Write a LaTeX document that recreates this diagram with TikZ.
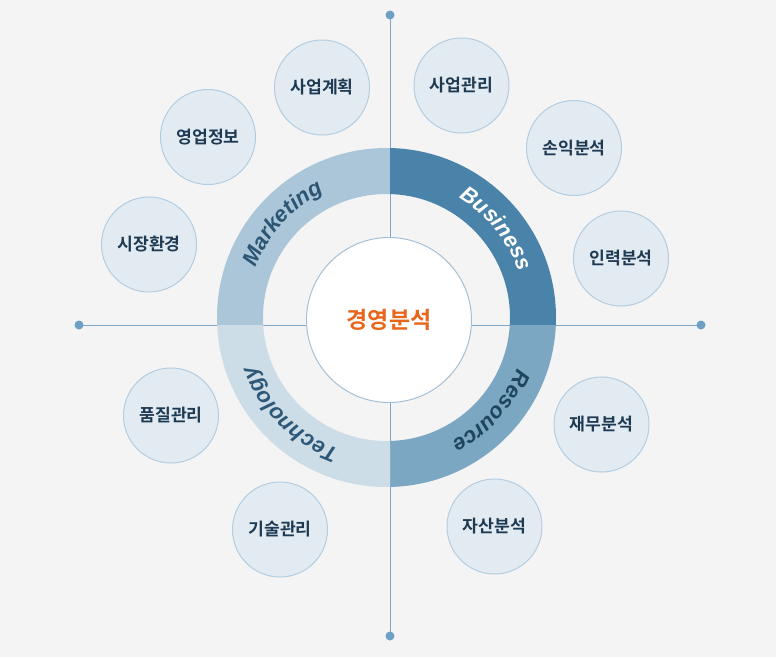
\documentclass[tikz,border=0pt]{standalone}
\usepackage{fontspec}
\setmainfont{Liberation Sans}
\IfFontExistsTF{Noto Sans CJK KR Bold}
  {\newfontfamily\kr{Noto Sans CJK KR Bold}}
  {\newfontfamily\kr{Noto Sans CJK KR}[FakeBold=1.5]}
\usetikzlibrary{decorations.text,calc}
\definecolor{bg}{HTML}{F4F4F4}
\definecolor{axisc}{HTML}{7FA8C8}
\definecolor{dotc}{HTML}{6E9FC4}
\definecolor{mkc}{HTML}{AAC6D8}
\definecolor{buc}{HTML}{4A83AA}
\definecolor{rec}{HTML}{7BA7C3}
\definecolor{tec}{HTML}{CDDDE8}
\definecolor{mkt}{HTML}{2B5573}
\definecolor{ret}{HTML}{1F4560}
\definecolor{tet}{HTML}{2E5878}
\definecolor{scfill}{HTML}{E2EBF2}
\definecolor{scdraw}{HTML}{B3CDE0}
\definecolor{txt}{HTML}{1E3A52}
\definecolor{ctr}{HTML}{E8661A}
\definecolor{ctrdraw}{HTML}{A5C0D5}
\newcommand{\ringfnt}{\bfseries\itshape\fontsize{22}{22}\selectfont}
\begin{document}
\begin{tikzpicture}[x=1pt,y=-1pt,
  axisline/.style={draw=axisc,line width=1pt},
  enddot/.style={fill=dotc},
  smallc/.style={circle,fill=scfill,draw=scdraw,line width=1pt,minimum size=95,inner sep=0pt,
     font=\kr\fontsize{17.2}{17.2}\selectfont,text=txt},
  centerc/.style={circle,fill=white,draw=ctrdraw,line width=1pt,minimum size=165,inner sep=0pt,
     font=\kr\fontsize{23}{23}\selectfont,text=ctr}
]
\useasboundingbox (0,0) rectangle (776,657);
\fill[bg] (0,0) rectangle (776,657);
\coordinate (rc) at (386.5,317.5);
\coordinate (ax) at (390,325);
\coordinate (top) at (390,15);
\coordinate (bot) at (390,636);
\coordinate (lft) at (79,325);
\coordinate (rgt) at (701,325);
\draw[axisline] (top) -- (bot);
\draw[axisline] (lft) -- (rgt);
\foreach \p in {top,bot,lft,rgt} \fill[enddot] (\p) circle[radius=4.5];
% ring quadrants
\begin{scope}\clip (0,0) rectangle (ax);
\fill[mkc,even odd rule] (rc) circle[radius=169.5] (rc) circle[radius=123.5];\end{scope}
\begin{scope}\clip (776,0) rectangle (ax);
\fill[buc,even odd rule] (rc) circle[radius=169.5] (rc) circle[radius=123.5];\end{scope}
\begin{scope}\clip (776,657) rectangle (ax);
\fill[rec,even odd rule] (rc) circle[radius=169.5] (rc) circle[radius=123.5];\end{scope}
\begin{scope}\clip (0,657) rectangle (ax);
\fill[tec,even odd rule] (rc) circle[radius=169.5] (rc) circle[radius=123.5];\end{scope}
% ring labels
\path[decorate,decoration={text along path,text align=center,text color=mkt,text={|\ringfnt|Marketing}}]
  ($(rc)+(182:140)$) arc[start angle=182,end angle=262,radius=140];
\path[decorate,decoration={text along path,text align=center,text color=white,text={|\ringfnt|Business}}]
  ($(rc)+(281:140)$) arc[start angle=281,end angle=361,radius=140];
\path[decorate,decoration={text along path,text align=center,text color=ret,text={|\ringfnt|Resource}}]
  ($(rc)+(2:140)$) arc[start angle=2,end angle=82,radius=140];
\path[decorate,decoration={text along path,text align=center,text color=tet,text={|\ringfnt|Technology}}]
  ($(rc)+(95:140)$) arc[start angle=95,end angle=175,radius=140];
% center
\node[centerc] (center) at (389,320) {경영분석};
% small circles
\node[smallc] (c1) at (322,87.5) {사업계획};
\node[smallc] (c2) at (208,137) {영업정보};
\node[smallc] (c3) at (149,244.5) {시장환경};
\node[smallc] (c4) at (461.5,85.5) {사업관리};
\node[smallc] (c5) at (574,148) {손익분석};
\node[smallc] (c6) at (621,258.5) {인력분석};
\node[smallc] (c7) at (601.5,424.5) {재무분석};
\node[smallc] (c8) at (494.5,526.5) {자산분석};
\node[smallc] (c9) at (171,415.5) {품질관리};
\node[smallc] (c10) at (280,529.5) {기술관리};
\end{tikzpicture}
\end{document}
